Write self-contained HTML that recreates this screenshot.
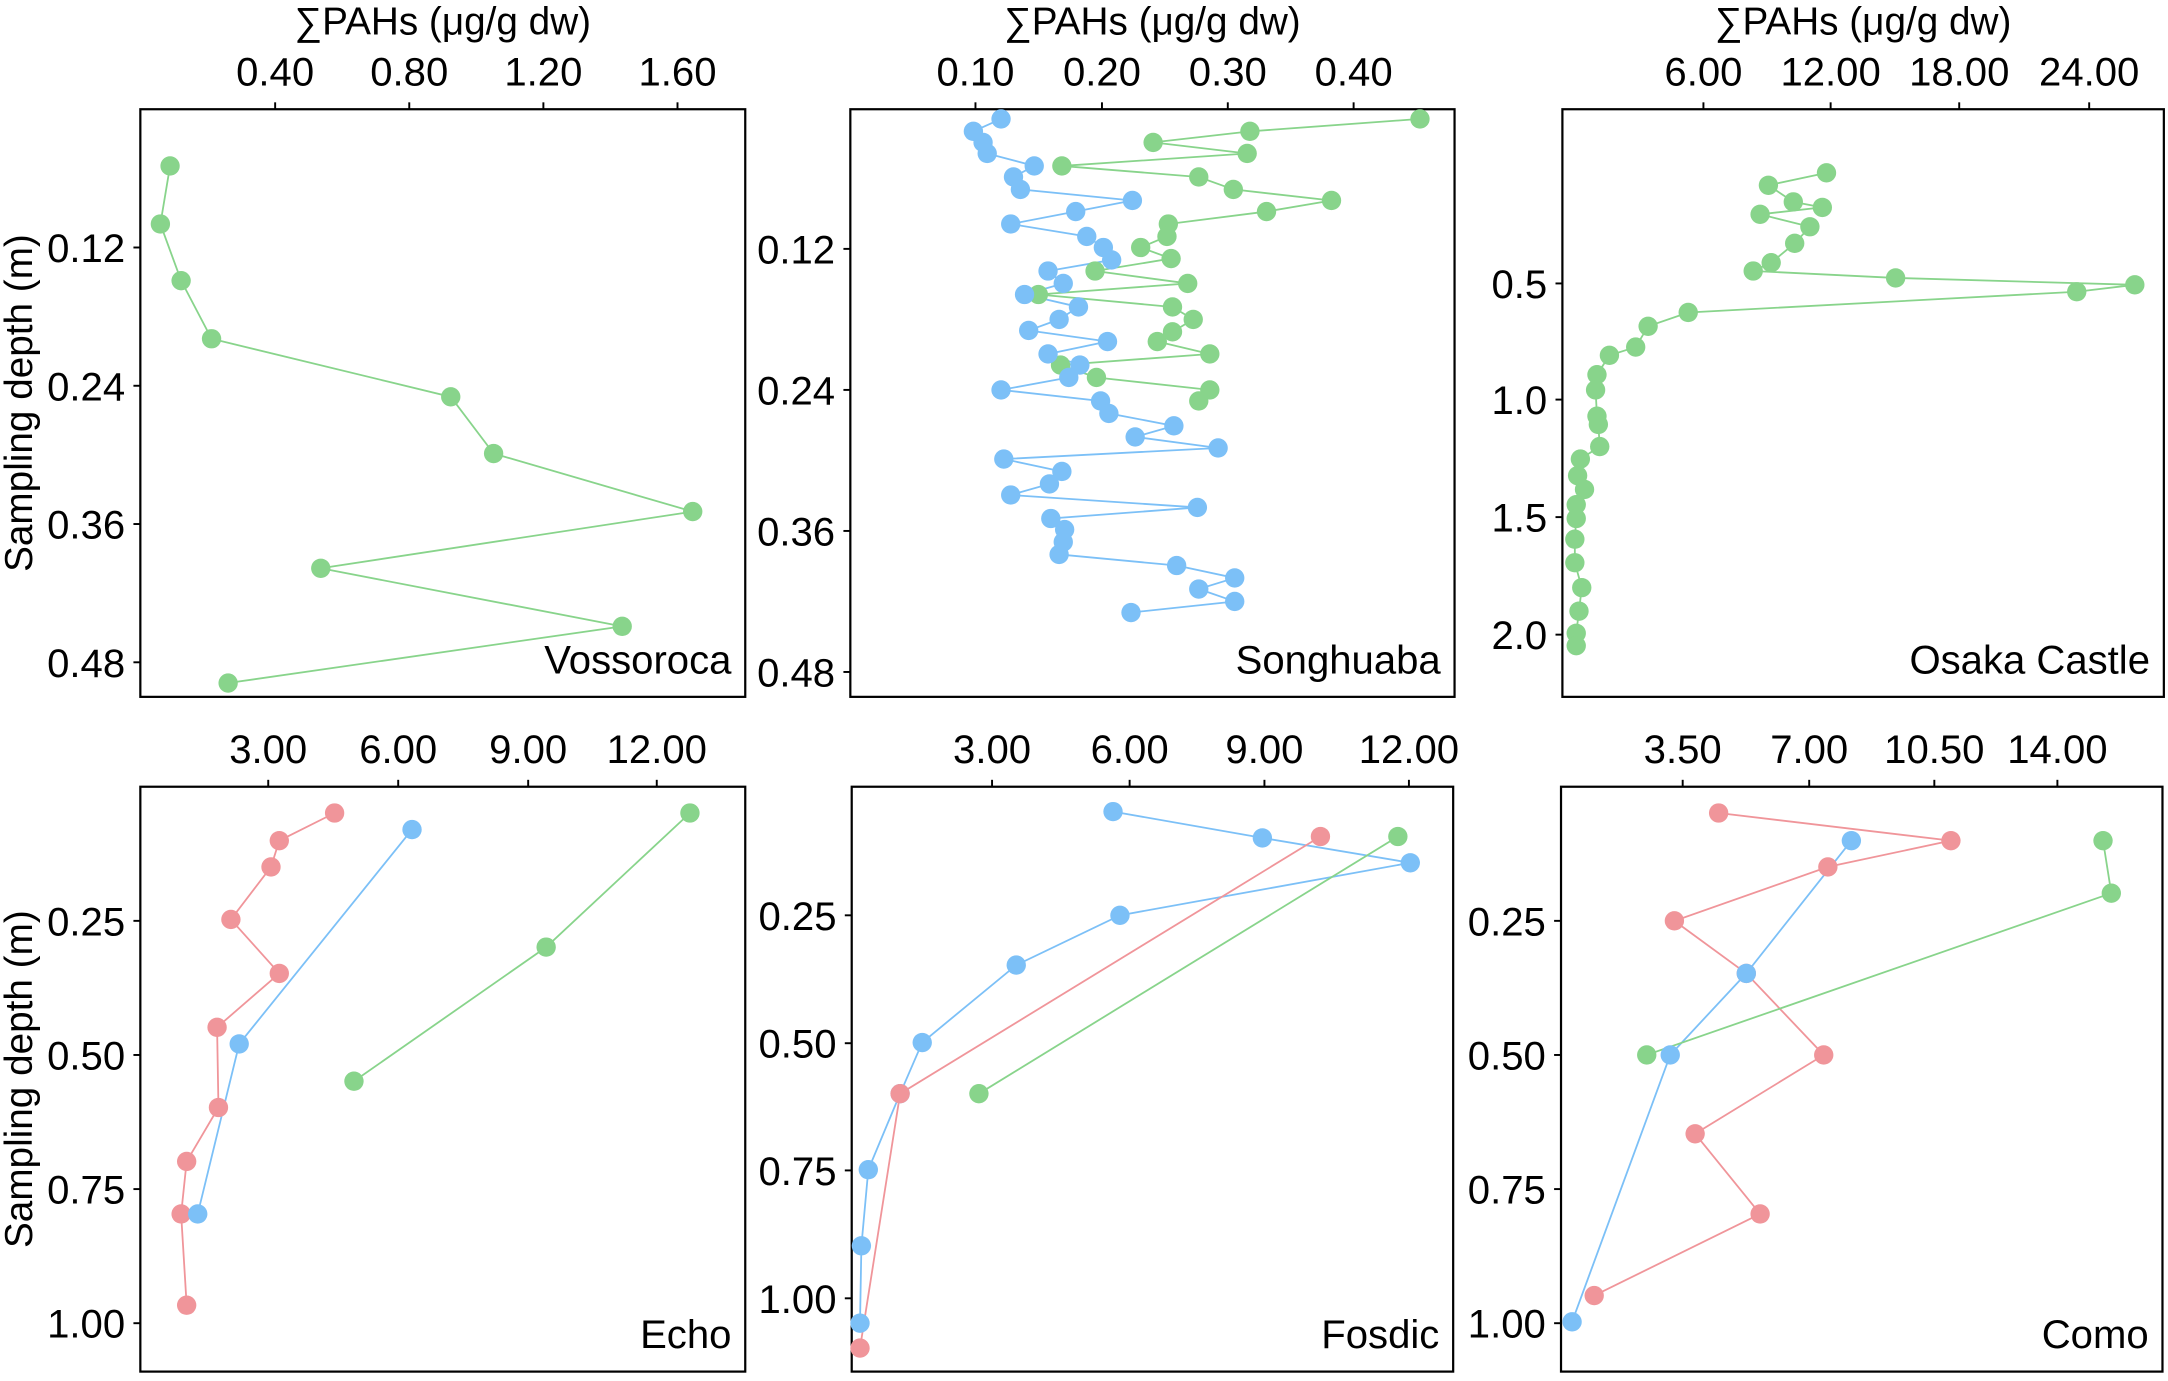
<!DOCTYPE html>
<html><head><meta charset="utf-8"><style>
html,body{margin:0;padding:0;background:#fff}
svg{display:block}
text{font-family:"Liberation Sans",Arial,sans-serif;fill:#000}
</style></head><body>
<svg id="s" width="2168" height="1381" viewBox="0 0 1568 998.8" xmlns="http://www.w3.org/2000/svg">
<rect width="1568" height="998.8" fill="#fff"/>
<g id="g"></g>
</svg>
<script>
const G='#88d48b',B='#7cc0f7',R='#f0959a';
const P=[
 {x0:101.5,x1:539,y0:79,y1:504,label:'Vossoroca',title:true,
  xt:[[199,'0.40'],[296,'0.80'],[393,'1.20'],[490,'1.60']],
  yt:[[179,'0.12'],[279,'0.24'],[379,'0.36'],[479,'0.48']],
  s:[[G,[[123,120],[116,162],[131,203],[153,245],[326,287],[357,328],[501,370],[232,411],[450,453],[165,494]]]]},
 {x0:615,x1:1052,y0:79,y1:504,label:'Songhuaba',title:true,
  xt:[[705.5,'0.10'],[797,'0.20'],[888,'0.30'],[979,'0.40']],
  yt:[[180,'0.12'],[282,'0.24'],[384,'0.36'],[486,'0.48']],
  s:[[G,[[1027,86],[904,95],[834,103],[902,111],[768,120],[867,128],[892,137],[963,145],[916,153],[845,162],[844,171],[825,179],[847,187],[792,196],[859,205],[751,213],[848,222],[863,231],[848,240],[837,247],[875,256],[767,264],[793,273],[875,282],[867,290]]],
     [B,[[724,86],[704,95],[711,103],[714,111],[748,120],[733,128],[738,137],[819,145],[778,153],[731,162],[786,171],[798,179],[804,188],[758,196],[769,205],[741,213],[780,222],[766,231],[744,239],[801,247],[758,256],[781,264],[773,273],[724,282],[796,290],[802,299],[849,308],[821,316],[881,324],[726,332],[768,341],[759,350],[731,358],[866,367],[760,375],[770,383],[769,392],[766,401],[851,409],[893,418],[867,426],[893,435],[818,443]]]]},
 {x0:1130,x1:1565,y0:79,y1:504,label:'Osaka Castle',title:true,
  xt:[[1232,'6.00'],[1324,'12.00'],[1417,'18.00'],[1511,'24.00']],
  yt:[[205,'0.5'],[289,'1.0'],[374,'1.5'],[459,'2.0']],
  s:[[G,[[1321,125],[1279,134],[1297,146],[1318,150],[1273,155],[1309,164],[1298,176],[1281,190],[1268,196],[1371,201],[1544,206],[1502,211],[1221,226],[1192,236],[1183,251],[1164,257],[1155,271],[1154,282],[1155,301],[1156,307],[1157,323],[1143,332],[1141,344],[1146,354],[1140,365],[1140,375],[1139,390],[1139,407],[1144,425],[1142,442],[1140,458],[1140,467]]]]},
 {x0:101.5,x1:539,y0:569,y1:992,label:'Echo',
  xt:[[194,'3.00'],[288,'6.00'],[382,'9.00'],[475,'12.00']],
  yt:[[666,'0.25'],[763,'0.50'],[860,'0.75'],[957,'1.00']],
  s:[[R,[[242,588],[202,608],[196,627],[167,665],[202,704],[157,743],[158,801],[135,840],[131,878],[135,944]]],
     [B,[[298,600],[173,755],[143,878]]],[G,[[499,588],[395,685],[256,782]]]]},
 {x0:616,x1:1051,y0:569,y1:992,label:'Fosdic',
  xt:[[717.5,'3.00'],[817,'6.00'],[914.5,'9.00'],[1019,'12.00']],
  yt:[[662,'0.25'],[754.5,'0.50'],[846.5,'0.75'],[939,'1.00']],
  s:[[B,[[805,587],[913,606],[1020,624],[810,662],[735,698],[667,754],[651,791],[628,846],[623,901],[622,957]]],
     [R,[[955,605],[651,791],[622,975]]],[G,[[1011,605],[708,791]]]]},
 {x0:1129,x1:1564,y0:569,y1:992,label:'Como',
  xt:[[1217,'3.50'],[1308.5,'7.00'],[1399,'10.50'],[1488,'14.00']],
  yt:[[666,'0.25'],[763,'0.50'],[860,'0.75'],[957,'1.00']],
  s:[[R,[[1243,588],[1411,608],[1322,627],[1211,666],[1263,704],[1319,763],[1226,820],[1273,878],[1153,937]]],
     [B,[[1339,608],[1263,704],[1208,763],[1137,956]]],[G,[[1521,608],[1527,646],[1191,763]]]]}
];
let h='';
P.forEach((p,i)=>{
 h+=`<rect x="${p.x0}" y="${p.y0}" width="${p.x1-p.x0}" height="${p.y1-p.y0}" fill="none" stroke="#000" stroke-width="1.6"/>`;
 p.xt.forEach(t=>{h+=`<line x1="${t[0]}" x2="${t[0]}" y1="${p.y0}" y2="${p.y0-5}" stroke="#000" stroke-width="1.4"/><text x="${t[0]}" y="${p.y0-17}" font-size="29" text-anchor="middle">${t[1]}</text>`;});
 p.yt.forEach(t=>{h+=`<line x1="${p.x0}" x2="${p.x0-5}" y1="${t[0]}" y2="${t[0]}" stroke="#000" stroke-width="1.4"/><text x="${p.x0-11}" y="${t[0]+10.5}" font-size="29" text-anchor="end">${t[1]}</text>`;});
 if(p.title) h+=`<text x="${(p.x0+p.x1)/2}" y="25" font-size="28" text-anchor="middle">∑PAHs (μg/g dw)</text>`;
 if(i%3==0) h+=`<text transform="translate(23,${(p.y0+p.y1)/2}) rotate(-90)" font-size="28" text-anchor="middle">Sampling depth (m)</text>`;
 p.s.forEach(s=>{
  h+=`<polyline fill="none" stroke="${s[0]}" stroke-width="1.3" points="${s[1].map(q=>q.join(',')).join(' ')}"/>`;
 });
 p.s.forEach(s=>{s[1].forEach(q=>{h+=`<circle cx="${q[0]}" cy="${q[1]}" r="7" fill="${s[0]}"/>`;});});
 h+=`<text x="${p.x1-10}" y="${p.y1-17}" font-size="29" text-anchor="end">${p.label}</text>`;
});
document.getElementById('g').innerHTML=h;
</script>
</body></html>
